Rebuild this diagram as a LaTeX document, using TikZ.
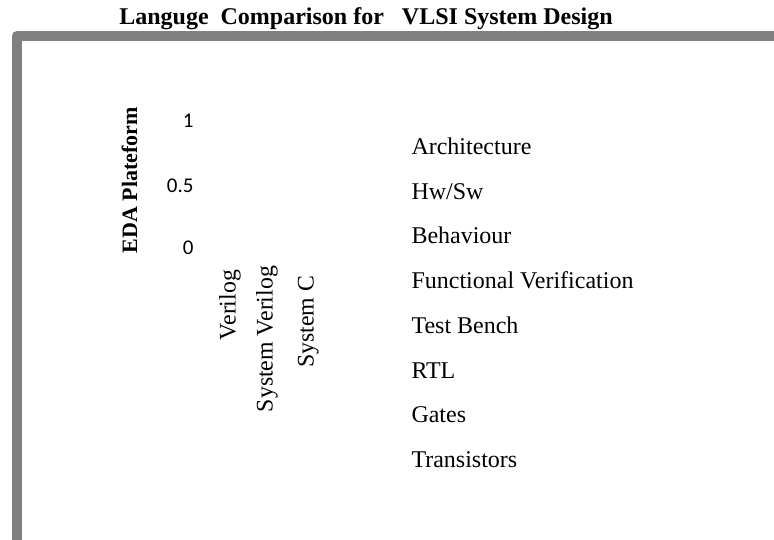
\documentclass[tikz,border=0pt]{standalone}
\usepackage{fontspec}
\setmainfont{Liberation Serif}
\newfontfamily\calib{Carlito}
\definecolor{framegray}{RGB}{128,128,128}
\begin{document}
\begin{tikzpicture}[x=1pt,y=-1pt,
  every node/.style={inner sep=0pt,outer sep=0pt},
  titletext/.style={font=\fontsize{24}{28}\selectfont\bfseries,anchor=base},
  axistitle/.style={font=\fontsize{22}{26}\selectfont\bfseries,rotate=90,anchor=base},
  ticklbl/.style={font=\calib\fontsize{21}{25}\selectfont,anchor=base east},
  catlbl/.style={font=\fontsize{23.8}{28}\selectfont,rotate=90,anchor=base east},
  levellbl/.style={font=\fontsize{24}{28}\selectfont,anchor=base west}]
\useasboundingbox (0,0) rectangle (774,539);
\begin{scope}
\clip (0,0) rectangle (774,539);
\draw[framegray,line width=10.6pt,line join=round] (16.8,560) -- (16.8,36) -- (800,36);
\end{scope}
\node[titletext] (title) at (366,24) {Languge\ \ Comparison for\ \ \ VLSI System Design};
\node[axistitle] (eda) at (137,180) {EDA Plateform};
\node[ticklbl] (n1) at (193.5,127.7) {1};
\node[ticklbl] (n05) at (193.5,192) {0.5};
\node[ticklbl] (n0) at (193.5,254.3) {0};
\node[catlbl] (lv) at (235.6,270) {Verilog};
\node[catlbl] (lsv) at (272.6,266) {System Verilog};
\node[catlbl] (lsc) at (313.6,276) {System C};
\node[levellbl] (r1) at (411.5,154.5) {Architecture};
\node[levellbl] (r2) at (411.5,199.2) {Hw/Sw};
\node[levellbl] (r3) at (411.5,243.9) {Behaviour};
\node[levellbl] (r4) at (411.5,288.6) {Functional Verification};
\node[levellbl] (r5) at (411.5,333.3) {Test Bench};
\node[levellbl] (r6) at (411.5,378.0) {RTL};
\node[levellbl] (r7) at (411.5,422.7) {Gates};
\node[levellbl] (r8) at (411.5,467.4) {Transistors};
\end{tikzpicture}
\end{document}
